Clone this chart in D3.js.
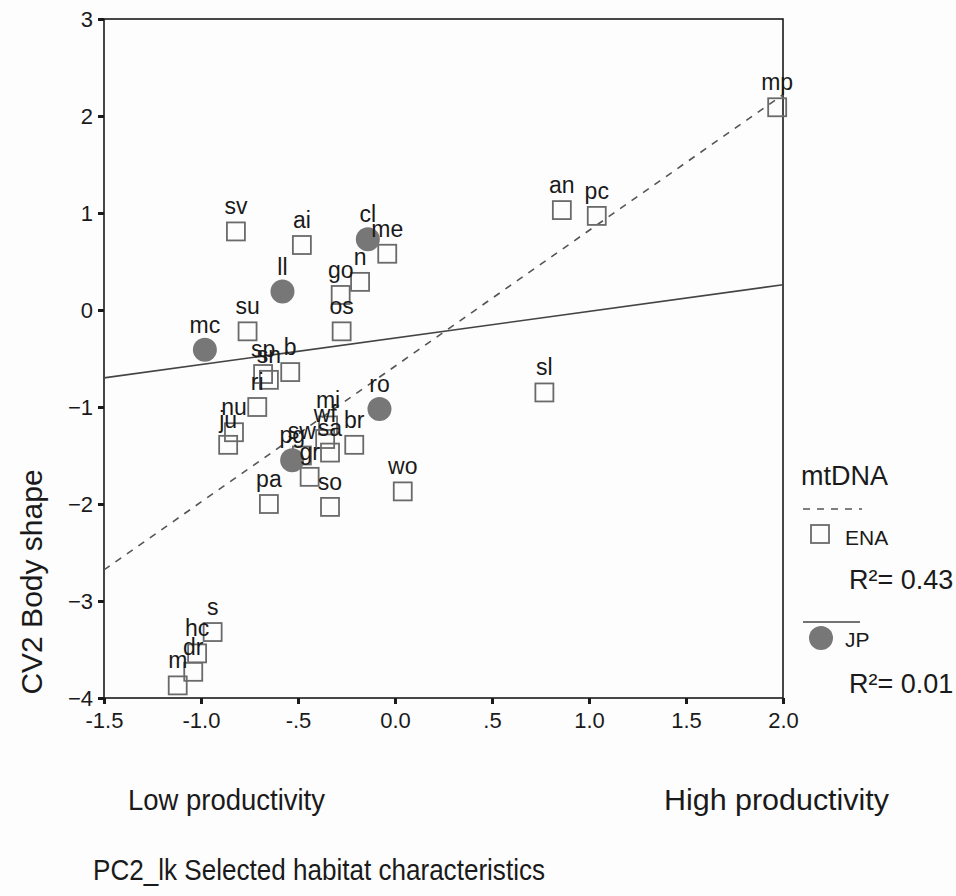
<!DOCTYPE html>
<html>
<head>
<meta charset="utf-8">
<script src="https://cdn.jsdelivr.net/npm/d3@7"></script>
<style>
  body { margin: 0; background: #fdfdfd; }
  svg { display: block; font-family: Arial, "Liberation Sans", sans-serif; }
</style>
</head>
<body>
<div class="chart"></div>
<script>
// axis ticks
var xTicks = [-1.5, -1.0, -0.5, 0.0, 0.5, 1.0, 1.5, 2.0];
var yTicks = [3, 2, 1, 0, -1, -2, -3, -4];

// ENA (open squares)
var enaNames = ['mp','an','pc','sv','ai','me','n','go','su','os','sp','sn','b','ri','nu','ju','sl',
                'mi','wf','sa','sw','gr','br','wo','pa','so','s','hc','dr','m'];
var enaX = [1.97, 0.86, 1.04, -0.82, -0.48, -0.04, -0.18, -0.28, -0.76, -0.275, -0.68, -0.65, -0.54, -0.71, -0.83, -0.86, 0.77,
            -0.345, -0.36, -0.335, -0.48, -0.44, -0.21, 0.04, -0.65, -0.335, -0.94, -1.02, -1.04, -1.12];
var enaY = [2.09, 1.03, 0.97, 0.81, 0.67, 0.58, 0.29, 0.155, -0.22, -0.22, -0.66, -0.72, -0.64, -1.0, -1.26, -1.39, -0.85,
            -1.19, -1.33, -1.47, -1.50, -1.72, -1.39, -1.87, -2.0, -2.03, -3.32, -3.54, -3.73, -3.87];

// JP (filled circles)
var jpNames = ['cl','ll','mc','ro','pg'];
var jpX = [-0.14, -0.58, -0.98, -0.08, -0.53];
var jpY = [0.73, 0.19, -0.41, -1.02, -1.55];

// fit lines (x from, x to) -> (y from, y to)
var fitX = [-1.5, 2.0];
var enaFitY = [-2.68, 2.22];
var jpFitY = [-0.70, 0.26];

var legendR2 = ['R\u00B2= 0.43', 'R\u00B2= 0.01'];

var width = 956, height = 896;
var svg = d3.select('div.chart').append('svg')
  .attr('width', width).attr('height', height);

var xScale = d3.scaleLinear().domain([-1.5, 2.0]).range([104, 783]);
var yScale = d3.scaleLinear().domain([-4, 3]).range([698, 19]);

var ink = '#1a1a1a';

// frame
svg.append('rect')
  .attr('x', xScale(-1.5)).attr('y', yScale(3))
  .attr('width', xScale(2.0) - xScale(-1.5))
  .attr('height', yScale(-4) - yScale(3))
  .attr('fill', 'none').attr('stroke', ink).attr('stroke-width', 1.6);

var fmtX = function(d){
  if (d === 0) return '0.0';
  var s = d3.format('.1f')(Math.abs(d));
  if (Math.abs(d) < 1) s = s.substring(1);
  return (d < 0 ? '-' : '') + s;
};

var xAxis = svg.append('g')
  .attr('transform', 'translate(0,' + yScale(-4) + ')')
  .call(d3.axisBottom(xScale).tickValues(xTicks).tickFormat(fmtX).tickSize(6).tickPadding(5));
var yAxis = svg.append('g')
  .attr('transform', 'translate(' + xScale(-1.5) + ',0)')
  .call(d3.axisLeft(yScale).tickValues(yTicks).tickFormat(d3.format('d')).tickSize(6).tickPadding(5));

[xAxis, yAxis].forEach(function(a){
  a.select('.domain').remove();
  a.selectAll('line').attr('stroke', ink).attr('stroke-width', 3);
  a.selectAll('text').attr('fill', ink).attr('font-size', '22px');
});
xAxis.selectAll('text').attr('dy', '0.85em');

// fit lines
var line = d3.line().x(function(d){ return xScale(d[0]); }).y(function(d){ return yScale(d[1]); });
svg.append('path')
  .datum(d3.zip(fitX, enaFitY))
  .attr('d', line).attr('fill', 'none')
  .attr('stroke', '#555').attr('stroke-width', 1.6).attr('stroke-dasharray', '7,7');
svg.append('path')
  .datum(d3.zip(fitX, jpFitY))
  .attr('d', line).attr('fill', 'none')
  .attr('stroke', '#444').attr('stroke-width', 1.6);

// markers
var ena = enaNames.map(function(n, i){ return {name: n, x: enaX[i], y: enaY[i]}; });
var jp = jpNames.map(function(n, i){ return {name: n, x: jpX[i], y: jpY[i]}; });

var sq = 18;
svg.append('g').selectAll('rect')
  .data(ena).enter().append('rect')
  .attr('x', function(d){ return xScale(d.x) - sq / 2; })
  .attr('y', function(d){ return yScale(d.y) - sq / 2; })
  .attr('width', sq).attr('height', sq)
  .attr('fill', 'none').attr('stroke', '#6a6a6a').attr('stroke-width', 1.8);

svg.append('g').selectAll('circle')
  .data(jp).enter().append('circle')
  .attr('cx', function(d){ return xScale(d.x); })
  .attr('cy', function(d){ return yScale(d.y); })
  .attr('r', 12)
  .attr('fill', '#777');

// point labels
svg.append('g').selectAll('text')
  .data(ena.concat(jp)).enter().append('text')
  .attr('x', function(d){ return xScale(d.x); })
  .attr('y', function(d){ return yScale(d.y) - 17; })
  .attr('text-anchor', 'middle')
  .attr('font-size', '23px')
  .attr('fill', ink)
  .text(function(d){ return d.name; });

// legend
var lg = svg.append('g');
lg.append('text').attr('x', 801).attr('y', 485).attr('font-size', '27px').attr('fill', ink).text('mtDNA');
lg.append('line').attr('x1', 803).attr('x2', 862).attr('y1', 509).attr('y2', 509)
  .attr('stroke', '#555').attr('stroke-width', 1.6).attr('stroke-dasharray', '7,7');
lg.append('rect').attr('x', 811).attr('y', 525).attr('width', sq).attr('height', sq)
  .attr('fill', 'none').attr('stroke', '#6a6a6a').attr('stroke-width', 1.8);
lg.append('text').attr('x', 845).attr('y', 545).attr('font-size', '21px').attr('fill', ink).text('ENA');
lg.append('text').attr('x', 849).attr('y', 589).attr('font-size', '27px').attr('fill', ink).text(legendR2[0]);
lg.append('line').attr('x1', 803).attr('x2', 860).attr('y1', 622).attr('y2', 622)
  .attr('stroke', '#444').attr('stroke-width', 1.6);
lg.append('circle').attr('cx', 821).attr('cy', 638).attr('r', 12).attr('fill', '#777');
lg.append('text').attr('x', 845).attr('y', 647).attr('font-size', '21px').attr('fill', ink).text('JP');
lg.append('text').attr('x', 849).attr('y', 693).attr('font-size', '27px').attr('fill', ink).text(legendR2[1]);

// axis titles
svg.append('text')
  .attr('transform', 'translate(42,582) rotate(-90)')
  .attr('text-anchor', 'middle').attr('font-size', '30px').attr('fill', ink)
  .text('CV2 Body shape');
svg.append('text').attr('x', 128).attr('y', 810).attr('font-size', '29px').attr('fill', ink)
  .attr('textLength', 197).attr('lengthAdjust', 'spacingAndGlyphs').text('Low productivity');
svg.append('text').attr('x', 664).attr('y', 810).attr('font-size', '29px').attr('fill', ink)
  .attr('textLength', 225).attr('lengthAdjust', 'spacingAndGlyphs').text('High productivity');
svg.append('text').attr('x', 93).attr('y', 880).attr('font-size', '30px').attr('fill', ink)
  .attr('textLength', 452).attr('lengthAdjust', 'spacingAndGlyphs')
  .text('PC2_lk Selected habitat characteristics');
</script>
</body>
</html>
